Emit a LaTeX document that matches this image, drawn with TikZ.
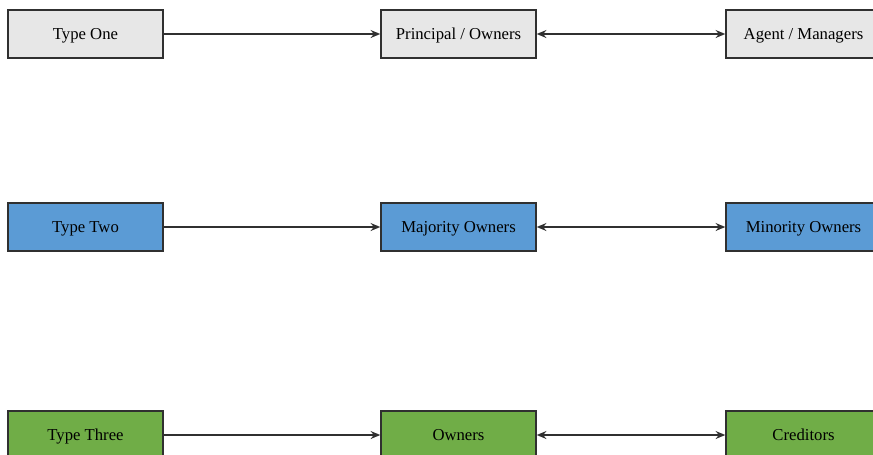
\documentclass[tikz,border=0pt]{standalone}
\usepackage{fontspec}
\setmainfont{Liberation Serif}
\usetikzlibrary{arrows.meta}
\definecolor{boxgray}{HTML}{E7E7E7}
\definecolor{boxblue}{HTML}{5B9BD5}
\definecolor{boxgreen}{HTML}{70AD47}
\definecolor{edge}{HTML}{303030}

\begin{document}
\begin{tikzpicture}[x=0.02cm,y=-0.02cm,
   box/.style={draw=edge,line width=0.8pt,minimum width=3.1cm,minimum height=0.96cm,
     inner sep=0pt,text height=6.2pt,text depth=0pt,font=\fontsize{9.5}{11}\selectfont},
   link/.style={draw=edge,line width=1pt,-{Stealth[length=5.5pt,width=4.5pt]}},
   both/.style={draw=edge,line width=1pt,{Stealth[length=5.5pt,width=4.5pt]}-{Stealth[length=5.5pt,width=4.5pt]}}]
   \useasboundingbox (0,0) rectangle (873,454);
   \clip (0,0) rectangle (873,454);
   % row one
   \node[box,fill=boxgray] (t1) at (85.5,34) {Type One};
   \node[box,fill=boxgray] (p1) at (458.5,34) {Principal / Owners};
   \node[box,fill=boxgray] (a1) at (803.5,34) {Agent / Managers};
   \draw[link] (t1) -- (p1);
   \draw[both] (p1) -- (a1);
   % row two
   \node[box,fill=boxblue] (t2) at (85.5,227) {Type Two};
   \node[box,fill=boxblue] (p2) at (458.5,227) {Majority Owners};
   \node[box,fill=boxblue] (a2) at (803.5,227) {Minority Owners};
   \draw[link] (t2) -- (p2);
   \draw[both] (p2) -- (a2);
   % row three
   \node[box,fill=boxgreen] (t3) at (85.5,435) {Type Three};
   \node[box,fill=boxgreen] (p3) at (458.5,435) {Owners};
   \node[box,fill=boxgreen] (a3) at (803.5,435) {Creditors};
   \draw[link] (t3) -- (p3);
   \draw[both] (p3) -- (a3);
\end{tikzpicture}
\end{document}
